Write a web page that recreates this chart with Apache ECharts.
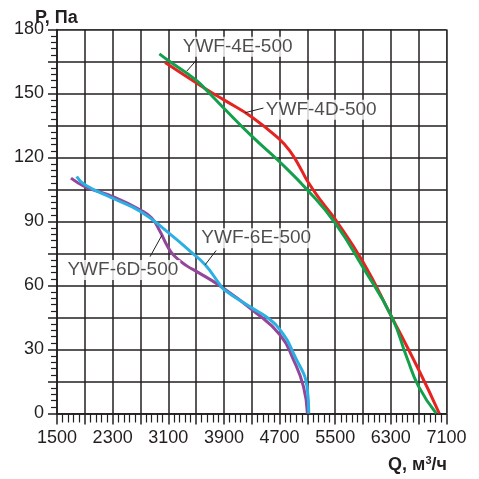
<!DOCTYPE html>
<html><head><meta charset="utf-8">
<script src="https://cdn.jsdelivr.net/npm/echarts@6/dist/echarts.min.js"></script>
<style>html,body{margin:0;padding:0;background:#fff}#c{width:479px;height:479px}</style>
</head><body><div id="c"></div>
<script>
// Data (Q, m3/h ; P, Pa)
const q4E = [2972, 3100, 3500, 3645, 3900, 4300, 4700, 5100, 5500, 5900, 6310, 6526, 6700, 6954];
const p4E = [168.6, 165.5, 156.3, 151.7, 143.1, 130.0, 118.0, 104.8, 89.2, 68.5, 45.4, 26.6, 12.6, 0];
const q4D = [3054, 3645, 3900, 4300, 4700, 4850, 5000, 5100, 5300, 5500, 5900, 6300, 6700, 6997];
const p4D = [164.5, 152.0, 147.0, 139.0, 128.5, 123.0, 115.0, 109.0, 99.5, 91.0, 71.0, 46.0, 20.5, 0];
const q6E = [1783, 1900, 2300, 2700, 3100, 3420, 3630, 3845, 3907, 4310, 4517, 4708, 4900, 5101, 5120];
const p6E = [111.1, 107.2, 100.9, 94.7, 84.8, 75.9, 69.7, 60.3, 57.9, 49.3, 45.1, 39.2, 28.2, 11.0, 0];
const q6D = [1701, 1900, 2300, 2700, 2862, 2982, 3078, 3174, 3366, 3510, 3845, 4310, 4708, 4900, 5044, 5100];
const p6D = [110.3, 106.4, 101.7, 95.4, 91.6, 85.3, 79.0, 74.3, 69.2, 66.5, 59.8, 48.5, 36.8, 25.1, 12.6, 0];

const seriesNames = ['YWF-4E-500', 'YWF-4D-500', 'YWF-6E-500', 'YWF-6D-500'];
const seriesColors = ['#12a04b', '#e52421', '#2cb0e4', '#93479a'];
// label anchor points and leader lines (data space)
const labelAt = [[4097, 171.9], [5299, 142.4], [4364, 82.2], [2447, 67.3]];
const leaders = [
  [[3366, 160.5], [3510, 165.8]],
  [[4205, 141.0], [4469, 143.2]],
  [[3630, 69.7], [3788, 76.4]],
  [[3007, 83.5], [2838, 73.5]]
];

const xTicks = {min: 1500, max: 7100, step: 400, labelStep: 800};
const yTicks = {min: 0, max: 180, step: 15, labelStep: 30};

const txt = '#231f20';
const font = "'Liberation Sans', Arial, sans-serif";
const zip = (a, b) => a.map((v, i) => [v, b[i]]);
const curves = [zip(q4E, p4E), zip(q4D, p4D), zip(q6E, p6E), zip(q6D, p6D)];

const series = [];
curves.forEach((d, i) => {
  series.push({
    name: seriesNames[i], type: 'line', data: d, smooth: 0.5, showSymbol: false,
    lineStyle: {color: seriesColors[i], width: 3}, z: 3 + (i === 0 || i === 2 ? 1 : 0)
  });
});
leaders.forEach((l) => {
  series.push({type: 'line', data: l, showSymbol: false, silent: true,
    lineStyle: {color: txt, width: 1}, z: 6});
});
series.push({
  type: 'scatter', symbolSize: 1, itemStyle: {color: 'rgba(0,0,0,0)'}, z: 8,
  data: labelAt.map((p, i) => ({value: p, name: seriesNames[i]})),
  label: {show: true, position: 'inside', formatter: (p) => p.name, color: txt,
    fontFamily: font, fontSize: 19, backgroundColor: '#fff', padding: [1, 2, 0, 2]}
});

const chart = echarts.init(document.getElementById('c'));
chart.setOption({
  animation: false,
  title: [{
    text: 'P, Па', left: 35, top: 9, padding: 0,
    textStyle: {fontFamily: font, fontWeight: 'bold', fontSize: 18, color: txt}
  }, {
    text: '{a|Q, м}{s|3}{a|/ч}', right: 32, top: 455, padding: 0,
    textStyle: {rich: {
      a: {fontFamily: font, fontWeight: 'bold', fontSize: 18, color: txt},
      s: {fontFamily: font, fontWeight: 'bold', fontSize: 11, color: txt, verticalAlign: 'top', padding: [0, 0, 10, 0]}
    }}
  }],
  grid: {left: 57, right: 32.5, top: 29.5, bottom: 65.5, show: true, borderColor: '#777', borderWidth: 1},
  xAxis: {
    type: 'value', min: xTicks.min, max: xTicks.max, interval: xTicks.step,
    axisLine: {show: true, onZero: false, lineStyle: {color: txt, width: 1.5}},
    axisTick: {show: true, inside: false, length: 11, lineStyle: {color: txt, width: 1.5}},
    minorTick: {show: true, splitNumber: 5, length: 9, lineStyle: {color: txt, width: 1.2}},
    splitLine: {show: true, lineStyle: {color: txt, width: 1.5}},
    axisLabel: {margin: 16, color: txt, fontFamily: font, fontSize: 18,
      formatter: (v) => ((v - xTicks.min) % xTicks.labelStep === 0 ? String(v) : '')}
  },
  yAxis: {
    type: 'value', min: yTicks.min, max: yTicks.max, interval: yTicks.step,
    axisLine: {show: true, lineStyle: {color: txt, width: 1.5}},
    axisTick: {show: true, inside: false, length: 9, lineStyle: {color: txt, width: 1.5}},
    minorTick: {show: true, splitNumber: 5, length: 6, lineStyle: {color: txt, width: 1.2}},
    splitLine: {show: true, lineStyle: {color: txt, width: 1.5}},
    axisLabel: {margin: 13, color: txt, fontFamily: font, fontSize: 18,
      formatter: (v) => (v % yTicks.labelStep === 0 ? String(v) : '')}
  },
  series: series
});
</script></body></html>
